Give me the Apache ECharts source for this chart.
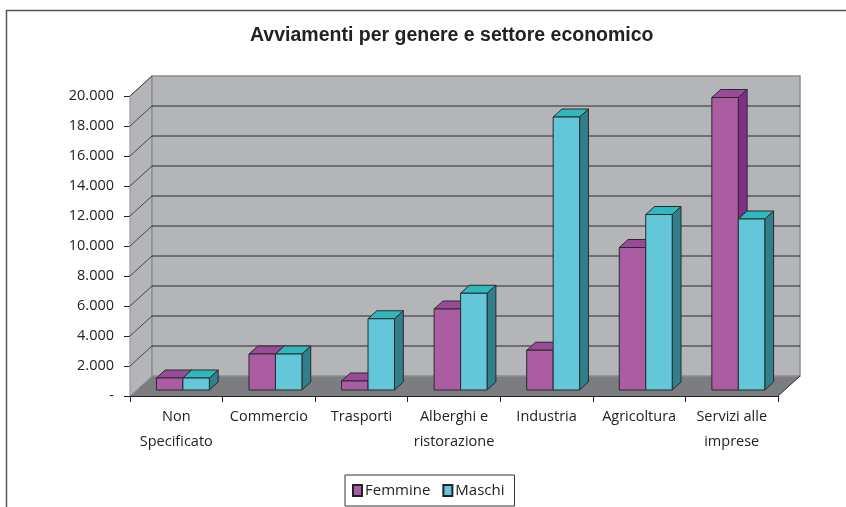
<!DOCTYPE html>
<html>
<head>
<meta charset="utf-8">
<title>Avviamenti per genere e settore economico</title>
<script src="https://cdn.jsdelivr.net/npm/echarts@6/dist/echarts.min.js"></script>
<style>
  html, body { margin: 0; padding: 0; background: #fff; }
  #chart { width: 846px; height: 507px; }
</style>
</head>
<body>
<div id="chart"></div>
<script>
// dati
var categories = ['Non\nSpecificato', 'Commercio', 'Trasporti', 'Alberghi e\nristorazione', 'Industria', 'Agricoltura', 'Servizi alle\nimprese'];
var femmine = [800, 2400, 600, 5400, 2650, 9500, 19500];
var maschi = [800, 2400, 4750, 6450, 18200, 11700, 11400];
var yTicks = [0, 2000, 4000, 6000, 8000, 10000, 12000, 14000, 16000, 18000, 20000];

// profondita' finta 3D (px)
var DX = 22, DY = 20;
var FONT = 'Open Sans';

var colF = { front: '#ab5ca2', top: '#9a4b98', side: '#7f2e89' };
var colM = { front: '#63c6d9', top: '#30b8bc', side: '#317f8d' };

var chart = echarts.init(document.getElementById('chart'));

function fmt(v) {
  if (v === 0) return '-';
  return String(v).replace(/\B(?=(\d{3})+(?!\d))/g, '.');
}

function renderWalls(params, api) {
  var o = api.coord([0, 0]);
  var band = api.size([1, 0])[0];
  var x0 = o[0] - band / 2;
  var x1 = x0 + band * categories.length;
  var y0 = o[1];
  var yTop = api.coord([0, yTicks[yTicks.length - 1]])[1];
  var children = [];
  // pavimento
  children.push({
    type: 'polygon',
    shape: { points: [[x0, y0], [x0 + DX, y0 - DY], [x1 + DX, y0 - DY], [x1, y0]] },
    style: { fill: '#7b7d81', stroke: null }
  });
  // parete laterale
  children.push({
    type: 'polygon',
    shape: { points: [[x0, y0], [x0, yTop], [x0 + DX, yTop - DY], [x0 + DX, y0 - DY]] },
    style: { fill: '#b3b5b8', stroke: '#8c8d90', lineWidth: 1 }
  });
  // parete di fondo
  children.push({
    type: 'rect',
    shape: { x: x0 + DX, y: yTop - DY, width: x1 - x0, height: y0 - yTop },
    style: { fill: '#b3b5b8', stroke: '#8c8d90', lineWidth: 1.5 }
  });
  yTicks.forEach(function (v) {
    var y = api.coord([0, v])[1];
    if (v > 0 && v < yTicks[yTicks.length - 1]) {
      children.push({
        type: 'line',
        shape: { x1: x0 + DX, y1: y - DY, x2: x1 + DX, y2: y - DY },
        style: { stroke: '#2b2b2b', lineWidth: 1 }
      });
    }
    if (v > 0) {
      children.push({
        type: 'line',
        shape: { x1: x0, y1: y, x2: x0 + DX, y2: y - DY },
        style: { stroke: '#2b2b2b', lineWidth: 0.8 }
      });
    }
  });
  // bordo destro del pavimento
  children.push({
    type: 'line',
    shape: { x1: x1, y1: y0, x2: x1 + DX, y2: y0 - DY },
    style: { stroke: '#2b2b2b', lineWidth: 1 }
  });
  return { type: 'group', children: children };
}

function makeBarRenderer(si, col) {
  return function (params, api) {
    var idx = api.value(0);
    var c = api.coord([idx, 0]);
    var t = api.coord([idx, api.value(1)]);
    var band = api.size([1, 0])[0];
    var bw = band * 0.286;
    var fx = c[0] - bw + si * bw + DX * 0.3;
    var fyB = c[1] - DY * 0.3;
    var fyT = t[1] - DY * 0.3;
    var dx = DX * 0.4, dy = DY * 0.4;
    var line = { stroke: '#2a2a2a', lineWidth: 1, lineJoin: 'round' };
    return {
      type: 'group',
      children: [
        {
          type: 'polygon',
          shape: { points: [[fx + bw, fyT], [fx + bw + dx, fyT - dy], [fx + bw + dx, fyB - dy], [fx + bw, fyB]] },
          style: Object.assign({ fill: col.side }, line)
        },
        {
          type: 'polygon',
          shape: { points: [[fx, fyT], [fx + dx, fyT - dy], [fx + bw + dx, fyT - dy], [fx + bw, fyT]] },
          style: Object.assign({ fill: col.top }, line)
        },
        {
          type: 'rect',
          shape: { x: fx, y: fyT, width: bw, height: fyB - fyT },
          style: Object.assign({ fill: col.front }, line)
        }
      ]
    };
  };
}

var option = {
  animation: false,
  title: {
    text: 'Avviamenti per genere e settore economico',
    left: 245,
    top: 21,
    textStyle: { fontFamily: 'Liberation Sans', fontWeight: 'bold', fontSize: 19.5, color: '#222' }
  },
  graphic: [{
    type: 'rect',
    left: 4, top: 8,
    shape: { width: 860, height: 520 },
    style: { fill: null, stroke: '#555', lineWidth: 1.5 },
    silent: true
  }],
  legend: {
    bottom: 1,
    left: 345,
    data: ['Femmine', 'Maschi'],
    icon: 'rect',
    itemWidth: 9,
    itemHeight: 11,
    itemGap: 12,
    padding: [8, 10, 8, 7],
    borderColor: '#333',
    borderWidth: 1,
    backgroundColor: '#fff',
    textStyle: { fontFamily: FONT, fontSize: 15, color: '#222', padding: [0, 0, 0, -2] }
  },
  grid: { left: 130, right: 68, top: 96, bottom: 111 },
  xAxis: {
    type: 'category',
    data: categories,
    boundaryGap: true,
    axisLine: { lineStyle: { color: '#222', width: 1 } },
    axisTick: { show: true, alignWithLabel: false, length: 6, lineStyle: { color: '#222' } },
    axisLabel: { fontFamily: FONT, fontSize: 14.5, color: '#222', lineHeight: 25, margin: 8, interval: 0 },
    splitLine: { show: false }
  },
  yAxis: {
    type: 'value',
    min: 0,
    max: 20000,
    interval: 2000,
    axisLine: { show: true, lineStyle: { color: '#222', width: 1 } },
    axisTick: { show: true, length: 6, lineStyle: { color: '#222' } },
    axisLabel: { fontFamily: FONT, fontSize: 14.5, color: '#222', margin: 16, formatter: fmt },
    splitLine: { show: false }
  },
  series: [
    {
      name: 'walls',
      type: 'custom',
      renderItem: renderWalls,
      data: [[0, 0]],
      z: 1,
      silent: true,
      clip: false
    },
    {
      name: 'Femmine',
      type: 'custom',
      renderItem: makeBarRenderer(0, colF),
      itemStyle: { color: colF.front, borderColor: '#222', borderWidth: 1 },
      data: femmine.map(function (v, i) { return [i, v]; }),
      z: 2,
      clip: false
    },
    {
      name: 'Maschi',
      type: 'custom',
      renderItem: makeBarRenderer(1, colM),
      itemStyle: { color: colM.front, borderColor: '#222', borderWidth: 1 },
      data: maschi.map(function (v, i) { return [i, v]; }),
      z: 3,
      clip: false
    }
  ]
};

chart.setOption(option);
</script>
</body>
</html>
